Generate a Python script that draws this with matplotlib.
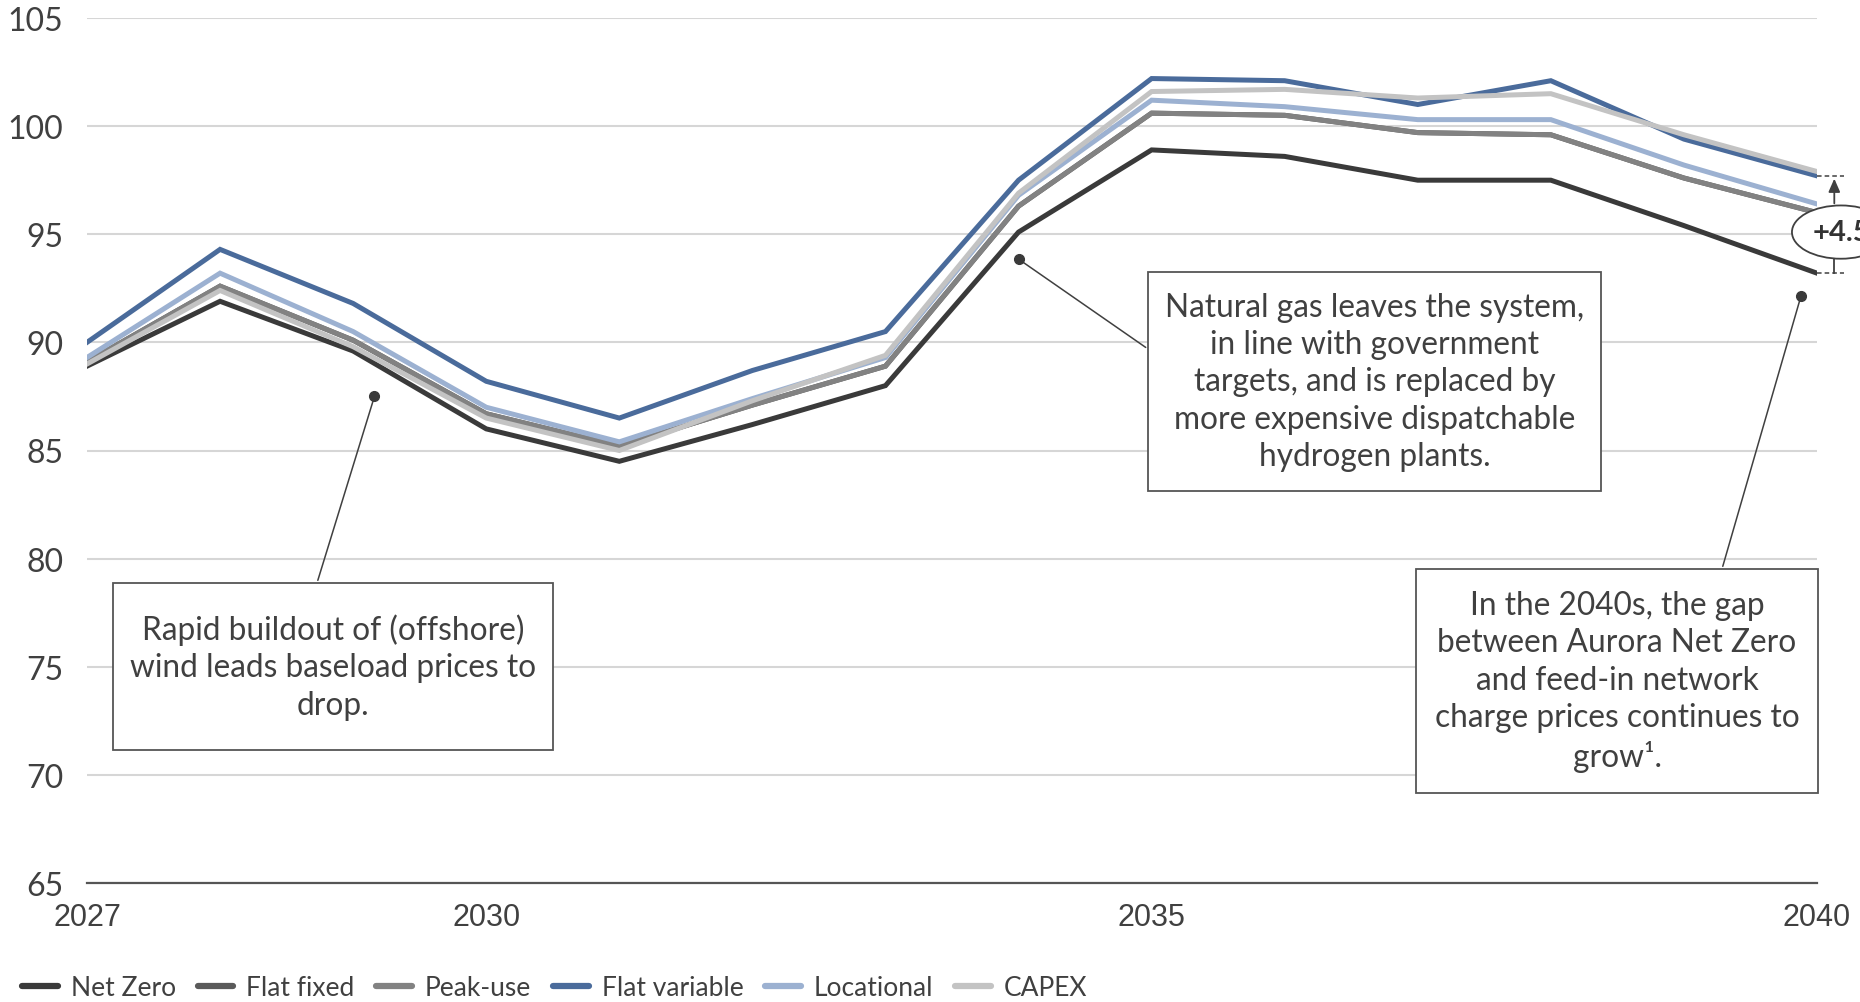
import matplotlib
matplotlib.use("Agg")
import matplotlib.pyplot as plt
from matplotlib.lines import Line2D
from matplotlib.patches import Rectangle

plt.rcParams['font.family'] = ['Lato', 'DejaVu Sans']

years = list(range(2027, 2041))

net_zero = [88.9, 91.9, 89.6, 86.0, 84.5, 86.2, 88.0, 95.1, 98.9, 98.6, 97.5, 97.5, 95.4, 93.2]
flat_fixed = [89.1, 92.6, 90.1, 86.7, 85.2, 87.1, 88.9, 96.3, 100.6, 100.5, 99.7, 99.6, 97.6, 96.0]
peak_use = [89.1, 92.6, 90.1, 86.7, 85.2, 87.1, 88.9, 96.3, 100.6, 100.5, 99.7, 99.6, 97.6, 96.0]
flat_variable = [90.0, 94.3, 91.8, 88.2, 86.5, 88.7, 90.5, 97.5, 102.2, 102.1, 101.0, 102.1, 99.4, 97.7]
locational = [89.3, 93.2, 90.5, 87.0, 85.4, 87.4, 89.3, 96.8, 101.2, 100.9, 100.3, 100.3, 98.2, 96.4]
capex = [89.0, 92.4, 89.8, 86.5, 85.0, 87.3, 89.4, 96.9, 101.6, 101.7, 101.3, 101.5, 99.6, 97.9]

names = ['Net Zero', 'Flat fixed', 'Peak-use', 'Flat variable', 'Locational', 'CAPEX']
series = [net_zero, flat_fixed, peak_use, flat_variable, locational, capex]
colors = ['#3a3a3a', '#5a5a5a', '#828282', '#4a6b9b', '#9cb1d1', '#c3c3c3']

xticks = [2027, 2030, 2035, 2040]
yticks = list(range(65, 106, 5))

notes = [
    "Rapid buildout of (offshore)\nwind leads baseload prices to\ndrop.",
    "Natural gas leaves the system,\nin line with government\ntargets, and is replaced by\nmore expensive dispatchable\nhydrogen plants.",
    "In the 2040s, the gap\nbetween Aurora Net Zero\nand feed-in network\ncharge prices continues to\ngrow\u00b9.",
]
note_points = [(2029.16, 87.5), (2034.0, 93.85), (2039.88, 92.15)]

W, H = 1860, 1003
TXT = '#404040'


def px(x, y):
    # pixel position (from top-left) -> figure fraction
    return x / W, 1 - y / H


fig = plt.figure(figsize=(W / 100, H / 100), dpi=100)
ax = fig.add_axes([87 / W, 1 - 884 / H, 1730 / W, 865 / H])

for vals, c, n in zip(series, colors, names):
    ax.plot(years, vals, color=c, lw=3.6, label=n, solid_joinstyle='miter')

ax.set_xlim(2027, 2040)
ax.set_ylim(65, 105)
ax.set_xticks(xticks)
ax.set_yticks(yticks)
ax.yaxis.grid(True, color='#d6d6d6', lw=1.5)
ax.set_axisbelow(True)
for s in ['top', 'right', 'left']:
    ax.spines[s].set_visible(False)
ax.spines['bottom'].set_color('#555555')
ax.spines['bottom'].set_linewidth(1.6)
ax.tick_params(length=0)
ax.tick_params(axis='y', labelsize=23, pad=17, labelcolor=TXT)
ax.tick_params(axis='x', labelsize=22, pad=13.5, labelcolor=TXT)
for lab in ax.get_xticklabels():
    lab.set_fontfamily('Liberation Sans')

# callout boxes (pixel rectangles) with leader lines to points on the chart
boxes = [(113, 584, 553, 751), (1148, 273, 1601, 492), (1416, 570, 1818, 794)]
leader_ends = [(317, 584), (1148, 350), (1722, 570)]
for text, (x0, y0, x1, y1), pt, end in zip(notes, boxes, note_points, leader_ends):
    fx0, fy1 = px(x0, y1)
    fx1, fy0 = px(x1, y0)
    fig.patches.append(Rectangle((fx0, fy1), fx1 - fx0, fy0 - fy1, transform=fig.transFigure,
                                 fc='white', ec='#555555', lw=1.3, zorder=5))
    cx, cy = px((x0 + x1) / 2, (y0 + y1) / 2)
    fig.text(cx, cy, text, ha='center', va='center', fontsize=22.8, color=TXT,
             linespacing=1.31, zorder=6)
    ax.annotate('', xy=pt, xycoords='data', xytext=px(*end), textcoords='figure fraction',
                arrowprops=dict(arrowstyle='-', color='#404040', lw=1.1), annotation_clip=False)
    ax.plot(*pt, 'o', color='#3a3a3a', ms=7, clip_on=False, zorder=7)

# gap marker at the last year between Net Zero and Flat variable
gx = 2040.13
gap = flat_variable[-1] - net_zero[-1]
for v in (flat_variable[-1], net_zero[-1]):
    ax.plot([2040.0, 2040.2], [v, v], color='#404040', lw=1.1, ls=(0, (3, 2)), clip_on=False)
label_y = 95.1
ax.annotate('', xy=(gx, flat_variable[-1]), xytext=(gx, 96.3),
            arrowprops=dict(arrowstyle='-|>,head_width=0.35,head_length=0.8', color='#404040', lw=1.3),
            annotation_clip=False)
ax.plot([gx, gx], [net_zero[-1], 93.9], color='#404040', lw=1.3, clip_on=False)
ax.text(2040.18, label_y, f"+{gap:.1f}", ha='center', va='center', fontsize=21, fontweight='bold',
        color='#333333', clip_on=False, zorder=8,
        bbox=dict(boxstyle='ellipse,pad=0.2', fc='white', ec='#404040', lw=1.3))

handles = [Line2D([0], [0], color=c, lw=4.5, solid_capstyle='round') for c in colors]
fig.legend(handles, names, loc='center left', bbox_to_anchor=px(22, 989), ncol=6, frameon=False,
           fontsize=19, handlelength=1.35, handletextpad=0.5, columnspacing=0.82,
           borderpad=0, borderaxespad=0, labelcolor=TXT)

fig.savefig('out.png', dpi=100)
